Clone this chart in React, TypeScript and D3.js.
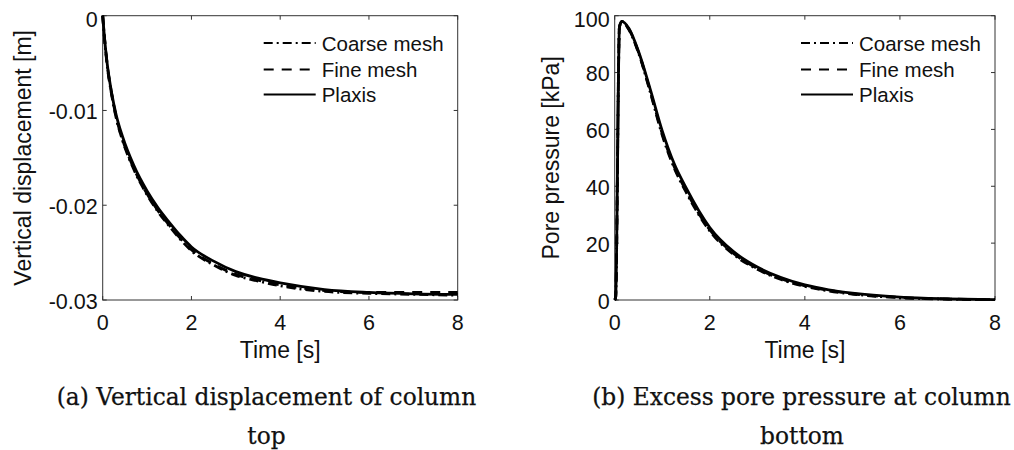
import * as d3 from 'd3';

// ---- data -----------------------------------------------------------------
const DISP_TIME = [0, 0.04, 0.1, 0.2, 0.3, 0.45, 0.7, 1.0, 1.25, 1.5, 1.75, 2.0, 2.5, 3.0, 3.5, 4.0, 5.0, 6.0, 7.0, 8.0];
const DISP_COARSE = [0, -0.0024, -0.0052, -0.0083, -0.0107, -0.0132, -0.0162, -0.0189, -0.0207, -0.0222, -0.0236, -0.0248, -0.0263, -0.0274, -0.028, -0.0285, -0.0291, -0.0293, -0.0294, -0.0295];
const DISP_FINE = [0, -0.0023, -0.0051, -0.0082, -0.0106, -0.0131, -0.0161, -0.0188, -0.0206, -0.0221, -0.0235, -0.0247, -0.0262, -0.0273, -0.0279, -0.0284, -0.029, -0.0292, -0.0292, -0.0292];
const DISP_PLAXIS = [0, -0.0023, -0.005, -0.0081, -0.0104, -0.0128, -0.0158, -0.0185, -0.0203, -0.0218, -0.0232, -0.0244, -0.0259, -0.027, -0.0277, -0.0282, -0.0289, -0.0292, -0.02935, -0.0294];

const PORE_TIME = [0, 0.02, 0.1, 0.15, 0.3, 0.5, 0.75, 1.0, 1.25, 1.5, 2.0, 2.5, 3.0, 3.5, 4.0, 4.5, 5.0, 6.0, 7.0, 8.0];
const PORE_COARSE = [0, 1, 96, 98, 95, 87, 73, 58, 46.5, 38, 24.3, 16, 10.8, 7.2, 4.8, 3.2, 2.1, 0.8, 0.3, 0.1];
const PORE_FINE = [0, 1, 96, 98, 95.2, 87.2, 73.3, 58.5, 47, 38.5, 24.7, 16.4, 11.1, 7.5, 5.0, 3.4, 2.2, 0.9, 0.35, 0.1];
const PORE_PLAXIS = [0, 1, 96, 98, 95.5, 87.5, 74, 59.5, 48, 39.5, 25.5, 17, 11.6, 7.9, 5.3, 3.6, 2.4, 1.0, 0.4, 0.1];

const X_TICKS = [0, 2, 4, 6, 8];
const DISP_TICKS = [0, -0.01, -0.02, -0.03];
const DISP_TICK_LABELS = ['0', '-0.01', '-0.02', '-0.03'];
const PORE_TICKS = [0, 20, 40, 60, 80, 100];
const PORE_TICK_LABELS = ['0', '20', '40', '60', '80', '100'];

const SERIES_NAMES = ['Coarse mesh', 'Fine mesh', 'Plaxis'];
const SERIES_DASH = ['9 4 2 4', '10 8', 'none'];

const SANS = "'Liberation Sans', Arial, sans-serif";
const SERIF = "'DejaVu Serif', serif";
const AXIS_COLOR = '#333333';

interface PanelProps {
  left: number;
  right: number;
  time: number[];
  series: number[][];
  yDomain: [number, number];
  yTicks: number[];
  yTickLabels: string[];
  yLabel: string;
  yLabelX: number;
}

const TOP = 15.7;
const BOTTOM = 300;
const TICK_LEN = 4;

function Panel({ left, right, time, series, yDomain, yTicks, yTickLabels, yLabel, yLabelX }: PanelProps) {
  const x = d3.scaleLinear().domain([0, 8]).range([left, right]);
  const y = d3.scaleLinear().domain(yDomain).range([BOTTOM, TOP]);
  const line = d3
    .line<number>()
    .x((_, i) => x(time[i]))
    .y((v) => y(v))
    .curve(d3.curveMonotoneX);

  const legendRows = [43, 69.5, 94.5];

  return (
    <g>
      {/* box */}
      <rect x={left} y={TOP} width={right - left} height={BOTTOM - TOP} fill="none" stroke={AXIS_COLOR} strokeWidth={1} />
      {/* x ticks (inward, top and bottom) */}
      {X_TICKS.map((t) => (
        <g key={`xt${t}`}>
          <line x1={x(t)} x2={x(t)} y1={BOTTOM} y2={BOTTOM - TICK_LEN} stroke={AXIS_COLOR} />
          <line x1={x(t)} x2={x(t)} y1={TOP} y2={TOP + TICK_LEN} stroke={AXIS_COLOR} />
          <text x={x(t)} y={330} textAnchor="middle" fontFamily={SANS} fontSize={21.5} fill="#111">
            {t}
          </text>
        </g>
      ))}
      {/* y ticks */}
      {yTicks.map((v, i) => (
        <g key={`yt${v}`}>
          <line x1={left} x2={left + TICK_LEN} y1={y(v)} y2={y(v)} stroke={AXIS_COLOR} />
          <line x1={right} x2={right - TICK_LEN} y1={y(v)} y2={y(v)} stroke={AXIS_COLOR} />
          <text
            x={left - 5}
            y={Math.max(y(v) + 8.5, 26.5)}
            textAnchor="end"
            fontFamily={SANS}
            fontSize={21.5}
            fill="#111"
          >
            {yTickLabels[i]}
          </text>
        </g>
      ))}
      {/* axis labels */}
      <text x={(left + right) / 2} y={358} textAnchor="middle" fontFamily={SANS} fontSize={23} fill="#111">
        Time [s]
      </text>
      <text
        transform={`translate(${yLabelX}, ${(TOP + BOTTOM) / 2}) rotate(-90)`}
        textAnchor="middle"
        fontFamily={SANS}
        fontSize={23}
        fill="#111"
      >
        {yLabel}
      </text>
      {/* curves */}
      {series.map((vals, i) => (
        <path
          key={`s${i}`}
          d={line(vals) ?? ''}
          fill="none"
          stroke="#000"
          strokeWidth={2.8}
          strokeDasharray={SERIES_DASH[i]}
        />
      ))}
      {/* legend */}
      {SERIES_NAMES.map((name, i) => (
        <g key={name}>
          <line
            x1={right - 194}
            x2={right - 142}
            y1={legendRows[i]}
            y2={legendRows[i]}
            stroke="#000"
            strokeWidth={2}
            strokeDasharray={SERIES_DASH[i]}
          />
          <text x={right - 136} y={legendRows[i] + 7.5} fontFamily={SANS} fontSize={20.5} fill="#111">
            {name}
          </text>
        </g>
      ))}
    </g>
  );
}

export default function App() {
  return (
    <svg
      width={1014}
      height={450}
      viewBox="0 0 1014 450"
      style={{ position: 'absolute', left: 0, top: 0, background: '#fff' }}
    >
      <rect width={1014} height={450} fill="#fff" />
      <Panel
        left={102.7}
        right={457.7}
        time={DISP_TIME}
        series={[DISP_COARSE, DISP_FINE, DISP_PLAXIS]}
        yDomain={[-0.03, 0]}
        yTicks={DISP_TICKS}
        yTickLabels={DISP_TICK_LABELS}
        yLabel="Vertical displacement [m]"
        yLabelX={30.5}
      />
      <Panel
        left={614.7}
        right={995}
        time={PORE_TIME}
        series={[PORE_COARSE, PORE_FINE, PORE_PLAXIS]}
        yDomain={[0, 100]}
        yTicks={PORE_TICKS}
        yTickLabels={PORE_TICK_LABELS}
        yLabel="Pore pressure [kPa]"
        yLabelX={559}
      />
      {/* captions */}
      <g fontFamily={SERIF} fontSize={23.3} fill="#111" stroke="#111" strokeWidth={0.25} textAnchor="middle">
        <text x={266.5} y={405}>
          (a) Vertical displacement of column
        </text>
        <text x={266.5} y={444}>
          top
        </text>
        <text x={801.5} y={405}>
          (b) Excess pore pressure at column
        </text>
        <text x={802} y={444}>
          bottom
        </text>
      </g>
    </svg>
  );
}
